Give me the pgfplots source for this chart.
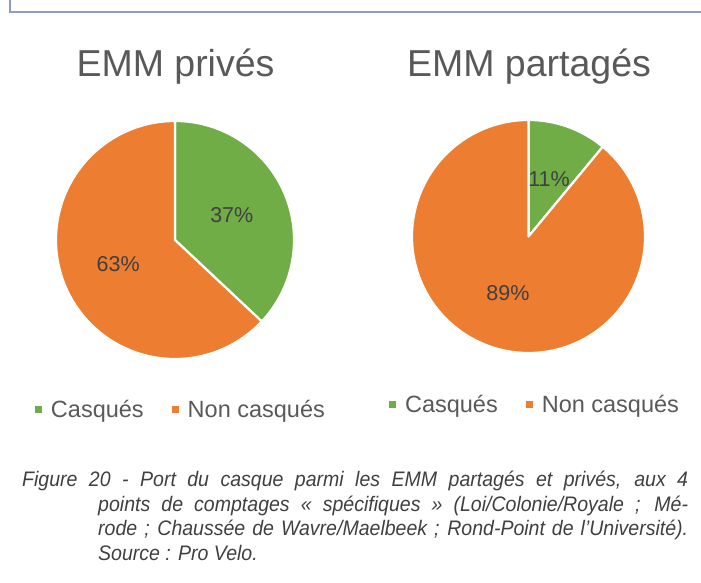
\documentclass[border=0pt]{standalone}
\usepackage{pgfplots}
\pgfplotsset{compat=1.18}
\usepackage{pgfplotstable}
\usepackage{fontspec}
\setmainfont{Liberation Sans}
\newfontfamily\capfont{Liberation Sans}[FakeStretch=0.93]
\definecolor{cgreen}{HTML}{70AD47}
\definecolor{corange}{HTML}{ED7D31}
\definecolor{ctitle}{HTML}{595959}
\definecolor{clabel}{HTML}{404040}
\definecolor{cframe}{RGB}{143,155,203}

\pgfplotstableread{
cat value
Casques 37
NonCasques 63
}\privtab
\pgfplotstableread{
cat value
Casques 11
NonCasques 89
}\parttab

\pgfplotstablegetelem{0}{value}\of\privtab \edef\privA{\pgfplotsretval}
\pgfplotstablegetelem{1}{value}\of\privtab \edef\privB{\pgfplotsretval}
\pgfplotstablegetelem{0}{value}\of\parttab \edef\partA{\pgfplotsretval}
\pgfplotstablegetelem{1}{value}\of\parttab \edef\partB{\pgfplotsretval}
\pgfmathsetmacro\privE{90-3.6*\privA}
\pgfmathsetmacro\privMa{90-1.8*\privA}
\pgfmathsetmacro\privMb{\privE-1.8*\privB}
\pgfmathsetmacro\partE{90-3.6*\partA}
\pgfmathsetmacro\partMa{90-1.8*\partA}
\pgfmathsetmacro\partMb{\partE-1.8*\partB}

\pgfplotsset{
  pieaxis/.style={
    width=238pt, height=238pt, scale only axis, hide axis,
    xmin=-1, xmax=1, ymin=-1, ymax=1, clip=false, anchor=center,
    legend columns=2,
    legend style={draw=none, fill=none, anchor=center,
      font=\fontsize{23.5}{27}\selectfont, text=ctitle,
      /tikz/every even column/.append style={column sep=26pt}},
    legend image code/.code={\fill[##1, draw=none] (0pt,-3.5pt) rectangle (7pt,3.5pt); \path[draw=none] (14pt,0pt);},
  },
  sector/.style={draw=white, line width=2.2pt, line join=round},
}

\begin{document}
\begin{tikzpicture}
\path[use as bounding box] (0,0) rectangle (701pt,582pt);
\draw[cframe, line width=2pt] (10pt,582pt) -- (10pt,570pt) -- (701pt,570pt);

\begin{axis}[pieaxis, at={(175pt,342pt)},
  legend style={at={(0.525,-0.214)}}]
\addplot[sector, fill=cgreen, domain=90:\privE, samples=120] ({cos(x)},{sin(x)}) -- (0,0) -- cycle;
\addplot[sector, fill=corange, domain=\privE:-270, samples=180] ({cos(x)},{sin(x)}) -- (0,0) -- cycle;
\legend{Casqués, Non casqués}
\node[font=\fontsize{21.5}{25}\selectfont, text=clabel] at (axis cs:{0.52*cos(\privMa)},{0.52*sin(\privMa)}) {\privA\%};
\node[font=\fontsize{21.5}{25}\selectfont, text=clabel] at (axis cs:{0.52*cos(\privMb)},{0.52*sin(\privMb)}) {\privB\%};
\end{axis}

\begin{axis}[pieaxis, at={(528.5pt,345.5pt)}, width=233pt, height=233pt,
  legend style={at={(0.528,-0.223)}}]
\addplot[sector, fill=cgreen, domain=90:\partE, samples=60] ({cos(x)},{sin(x)}) -- (0,0) -- cycle;
\addplot[sector, fill=corange, domain=\partE:-270, samples=200] ({cos(x)},{sin(x)}) -- (0,0) -- cycle;
\legend{Casqués, Non casqués}
\node[font=\fontsize{21.5}{25}\selectfont, text=clabel] at (axis cs:{0.52*cos(\partMa)},{0.52*sin(\partMa)}) {\partA\%};
\node[font=\fontsize{21.5}{25}\selectfont, text=clabel] at (axis cs:{0.52*cos(\partMb)},{0.52*sin(\partMb)}) {\partB\%};
\end{axis}

\node[anchor=base, font=\fontsize{37.5}{42}\selectfont, text=ctitle, inner sep=0pt] at (175.5pt,505pt) {EMM privés};
\node[anchor=base, font=\fontsize{37.5}{42}\selectfont, text=ctitle, inner sep=0pt] at (529pt,505pt) {EMM partagés};

\node[anchor=north west, inner sep=0pt, text=clabel] at (22pt,111pt)
  {\parbox[t]{666pt}{\capfont\itshape\fontsize{21}{24.5}\selectfont
  \parshape 2 0pt 666pt 76pt 590pt \noindent Figure 20 - Port du casque parmi les EMM partagés et privés, aux 4\linebreak points de comptages « spécifiques » (Loi/Colonie/Royale ; Mé-\linebreak rode ; Chaussée de Wavre/Maelbeek ; Rond-Point de l’Université).\linebreak Source : Pro Velo.\par}};
\end{tikzpicture}
\end{document}
